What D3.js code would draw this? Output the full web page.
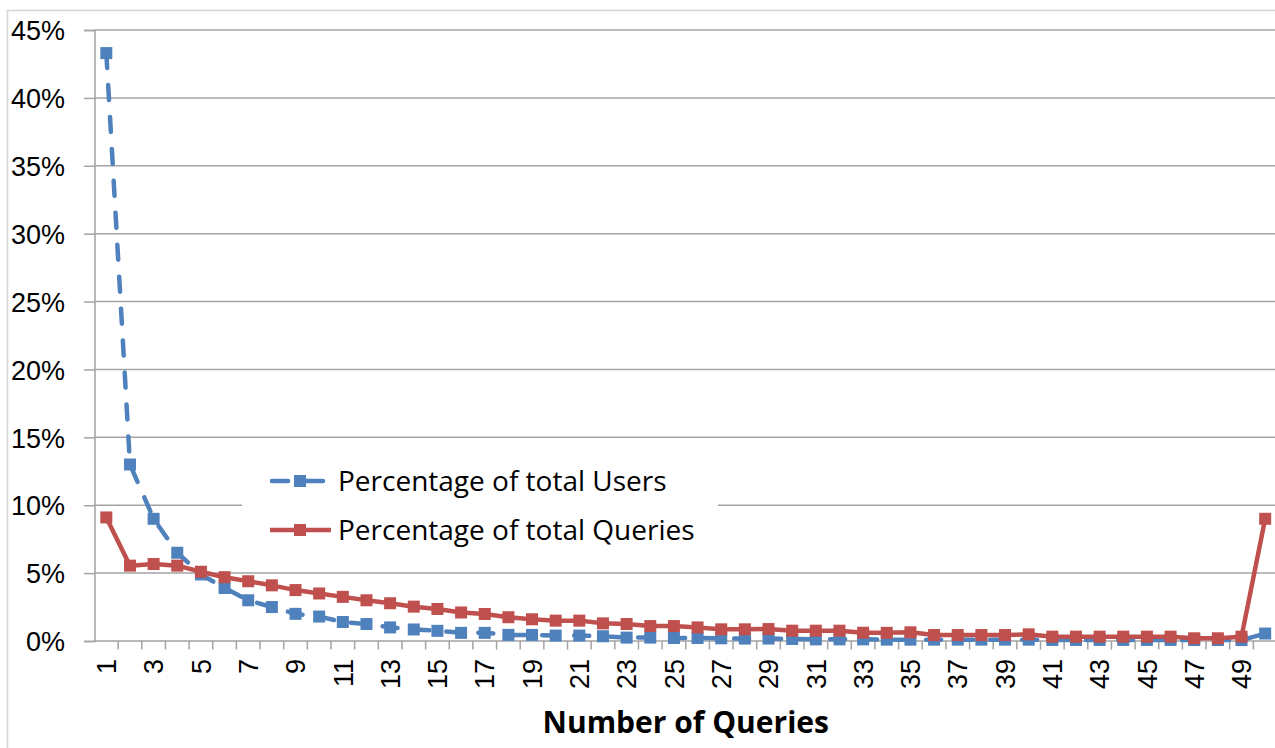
<!DOCTYPE html>
<html>
<head>
<meta charset="utf-8">
<script src="https://cdn.jsdelivr.net/npm/d3@7"></script>
<style>
  html, body { margin: 0; padding: 0; background: #fff; }
  svg { display: block; font-family: "Open Sans", Lato, sans-serif; }
</style>
</head>
<body>
<svg id="chart" width="1275" height="748"></svg>
<script>
// Share of users and of queries, by number of queries issued per user
const categories = d3.range(1, 51).map(String);
const usersPct = [43.3, 13.0, 9.0, 6.5, 4.9, 3.9, 3.0, 2.5, 2.0, 1.8,
  1.4, 1.25, 1.0, 0.85, 0.75, 0.6, 0.6, 0.45, 0.45, 0.4,
  0.4, 0.35, 0.25, 0.25, 0.22, 0.22, 0.2, 0.18, 0.18, 0.15,
  0.12, 0.12, 0.12, 0.1, 0.1, 0.1, 0.1, 0.1, 0.1, 0.1,
  0.08, 0.08, 0.08, 0.08, 0.08, 0.08, 0.07, 0.07, 0.07, 0.55];
const queriesPct = [9.1, 5.55, 5.67, 5.55, 5.1, 4.7, 4.4, 4.1, 3.75, 3.5,
  3.25, 3.0, 2.78, 2.53, 2.36, 2.1, 1.99, 1.75, 1.6, 1.5,
  1.5, 1.3, 1.25, 1.1, 1.1, 1.0, 0.86, 0.86, 0.88, 0.76,
  0.76, 0.76, 0.61, 0.6, 0.64, 0.44, 0.44, 0.44, 0.44, 0.49,
  0.32, 0.32, 0.32, 0.32, 0.32, 0.32, 0.2, 0.2, 0.32, 9.0];
const yTicks = [0, 5, 10, 15, 20, 25, 30, 35, 40, 45];
const xTickLabels = categories.filter((d, i) => i % 2 === 0);
const seriesNames = ["Percentage of total Users", "Percentage of total Queries"];

const BLUE = "#4F81BD", RED = "#C0504D", GRID = "#a3a3a3";

const svg = d3.select("#chart");
const plotLeft = 94.5, plotTop = 30, plotBottom = 641, step = 23.65;

const x = d3.scaleBand().domain(categories).range([plotLeft, plotLeft + step * categories.length]);
const y = d3.scaleLinear().domain([0, 45]).range([plotBottom, plotTop]);

// outer chart border
svg.append("rect").attr("x", 7.5).attr("y", 10.5).attr("width", 1300).attr("height", 760)
  .attr("fill", "none").attr("stroke", "#d4d4d4").attr("stroke-width", 1.5);

// horizontal gridlines
svg.append("g").selectAll("line").data(yTicks.filter(d => d > 0)).join("line")
  .attr("x1", plotLeft).attr("x2", 1275)
  .attr("y1", d => y(d)).attr("y2", d => y(d))
  .attr("stroke", GRID).attr("stroke-width", 1.5);

// y axis
const yAxis = svg.append("g").attr("transform", `translate(${plotLeft},0)`)
  .call(d3.axisLeft(y).tickValues(yTicks).tickFormat(d => d + "%").tickSize(10.5).tickPadding(19));
yAxis.select(".domain").attr("stroke", GRID).attr("stroke-width", 1.5);
yAxis.selectAll(".tick line").attr("stroke", GRID).attr("stroke-width", 1.5);
yAxis.selectAll("text").attr("font-size", 27).attr("fill", "#000").attr("dy", "0.36em");

// x axis line with ticks on category boundaries
svg.append("line").attr("x1", plotLeft).attr("x2", 1275).attr("y1", plotBottom).attr("y2", plotBottom)
  .attr("stroke", GRID).attr("stroke-width", 1.5);
svg.append("g").selectAll("line").data(categories).join("line")
  .attr("x1", d => x(d) + x.bandwidth()).attr("x2", d => x(d) + x.bandwidth())
  .attr("y1", plotBottom).attr("y2", plotBottom + 8.5)
  .attr("stroke", GRID).attr("stroke-width", 1.5);

const xAxis = svg.append("g").attr("transform", `translate(0,${plotBottom})`)
  .call(d3.axisBottom(x).tickValues(xTickLabels).tickSize(0).tickPadding(0));
xAxis.select(".domain").remove();
xAxis.selectAll("text")
  .attr("font-size", 27).attr("fill", "#000")
  .attr("text-anchor", "end").attr("y", 0).attr("dy", "0.36em")
  .attr("transform", "translate(0,18) rotate(-90)");

// axis title
svg.append("text").attr("x", plotLeft + step * categories.length / 2).attr("y", 733)
  .attr("text-anchor", "middle").attr("font-size", 30).attr("font-weight", "bold")
  .text("Number of Queries");

// legend box sits over the gridlines
svg.append("rect").attr("x", 242).attr("y", 452).attr("width", 476).attr("height", 104).attr("fill", "#fff");

const cx = d => x(d) + x.bandwidth() / 2;
const line = d3.line().x((d, i) => cx(categories[i])).y(d => y(d));

function drawSeries(values, color, dashed) {
  const g = svg.append("g");
  g.append("path").datum(values).attr("d", line)
    .attr("fill", "none").attr("stroke", color).attr("stroke-width", 4.5)
    .attr("stroke-linecap", dashed ? "round" : "butt").attr("stroke-linejoin", "round")
    .attr("stroke-dasharray", dashed ? "15,17" : null);
  g.selectAll("rect").data(values).join("rect")
    .attr("x", (d, i) => cx(categories[i]) - 6).attr("y", d => y(d) - 6)
    .attr("width", 12).attr("height", 12).attr("fill", color);
}
drawSeries(usersPct, BLUE, true);
drawSeries(queriesPct, RED, false);

// legend entries
const legend = [
  { name: seriesNames[0], color: BLUE, dashed: true, y: 481 },
  { name: seriesNames[1], color: RED, dashed: false, y: 530 }
];
legend.forEach(l => {
  const g = svg.append("g");
  if (l.dashed) {
    [[272, 288], [300, 323]].forEach(([a, b]) =>
      g.append("line").attr("x1", a).attr("x2", b).attr("y1", l.y).attr("y2", l.y)
        .attr("stroke", l.color).attr("stroke-width", 4.5).attr("stroke-linecap", "round"));
  } else {
    g.append("line").attr("x1", 270).attr("x2", 331).attr("y1", l.y).attr("y2", l.y)
      .attr("stroke", l.color).attr("stroke-width", 4.5);
  }
  g.append("rect").attr("x", 294).attr("y", l.y - 6).attr("width", 12).attr("height", 12).attr("fill", l.color);
  g.append("text").attr("x", 338).attr("y", l.y).attr("dy", "0.36em")
    .attr("font-size", 28).attr("fill", "#000").text(l.name);
});
</script>
</body>
</html>
